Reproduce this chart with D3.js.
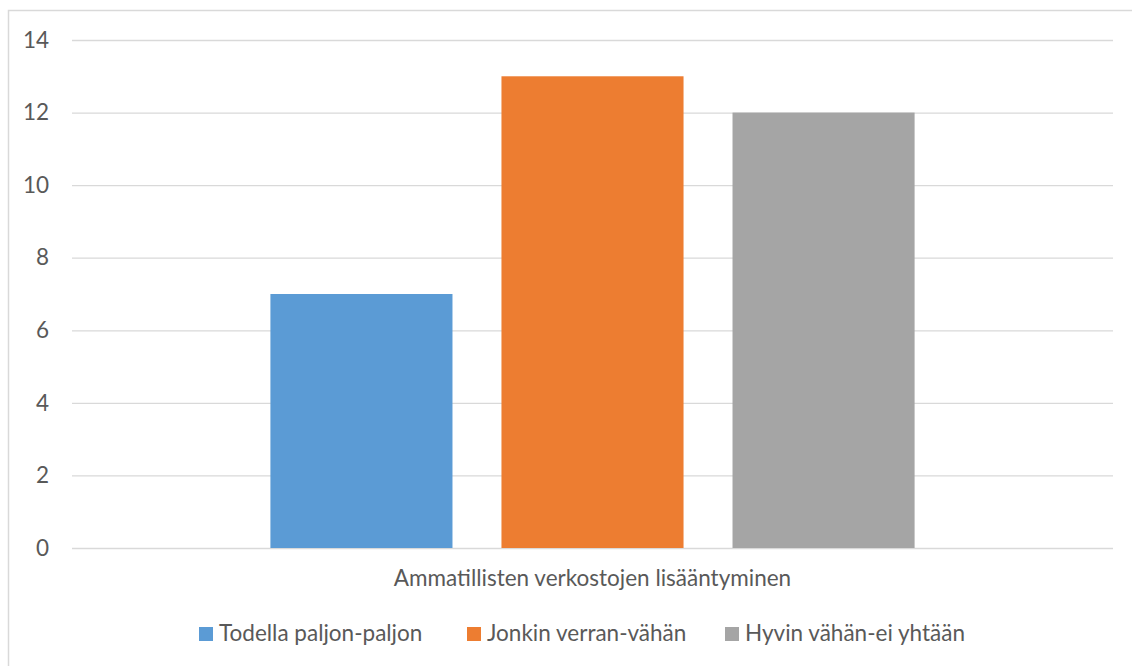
<!DOCTYPE html>
<html>
<head>
<meta charset="utf-8">
<script src="https://cdn.jsdelivr.net/npm/d3@7"></script>
<style>
  html, body { margin: 0; padding: 0; background: #fff; }
  svg { display: block; }
  text { font-family: Lato, "Open Sans", sans-serif; fill: #595959; }
</style>
</head>
<body>
<svg id="chart" width="1132" height="666"></svg>
<script>
// Chart data
const categories = ["Ammatillisten verkostojen lisääntyminen"];
const seriesNames = ["Todella paljon-paljon", "Jonkin verran-vähän", "Hyvin vähän-ei yhtään"];
const seriesValues = [7, 13, 12];
const seriesColors = ["#5b9bd5", "#ed7d31", "#a5a5a5"];
const yTicks = [0, 2, 4, 6, 8, 10, 12, 14];

const svg = d3.select("#chart");
const W = 1132, H = 666;
const plot = { left: 72, right: 1113, top: 40, bottom: 548 };
const FONT = "Lato, 'Open Sans', sans-serif";

// Chart area frame
svg.append("rect")
  .attr("x", 8.5).attr("y", 10.5)
  .attr("width", W + 20).attr("height", H + 20)
  .attr("fill", "#fff")
  .attr("stroke", "#d9d9d9")
  .attr("stroke-width", 1.5);

const y = d3.scaleLinear().domain([0, 14]).range([plot.bottom, plot.top]);

const x0 = d3.scaleBand()
  .domain(categories)
  .range([plot.left, plot.right])
  .paddingInner(0)
  .paddingOuter(0.308);

const x1 = d3.scaleBand()
  .domain(seriesNames)
  .range([0, x0.bandwidth()])
  .paddingInner(0.212)
  .paddingOuter(0);

// Gridlines and y tick labels
const yAxis = d3.axisLeft(y)
  .tickValues(yTicks)
  .tickSize(-(plot.right - plot.left))
  .tickPadding(23)
  .tickFormat(d3.format("d"));

const gy = svg.append("g")
  .attr("transform", `translate(${plot.left},0)`)
  .call(yAxis);
gy.select(".domain").remove();
gy.selectAll(".tick line")
  .attr("stroke", "#d9d9d9")
  .attr("stroke-width", 1.3);
gy.selectAll(".tick text")
  .attr("fill", "#595959")
  .style("font-family", FONT)
  .style("font-size", "22.5px");

// Bars
const groups = svg.append("g")
  .selectAll("g")
  .data(categories)
  .join("g")
  .attr("transform", d => `translate(${x0(d)},0)`);

groups.selectAll("rect")
  .data(() => seriesNames.map((s, i) => ({ name: s, value: seriesValues[i], color: seriesColors[i] })))
  .join("rect")
  .attr("x", d => x1(d.name))
  .attr("y", d => y(d.value))
  .attr("width", x1.bandwidth())
  .attr("height", d => y(0) - y(d.value))
  .attr("fill", d => d.color);

// Category axis label
const xAxis = d3.axisBottom(x0).tickSize(0).tickPadding(0);
const gx = svg.append("g")
  .attr("transform", `translate(0,${plot.bottom})`)
  .call(xAxis);
gx.select(".domain").remove();
gx.selectAll(".tick text")
  .attr("y", 38)
  .attr("dy", null)
  .attr("fill", "#595959")
  .style("font-family", FONT)
  .style("font-size", "22.5px");

// Legend
const legendStarts = [199, 467, 725];
const legend = svg.append("g")
  .selectAll("g")
  .data(seriesNames)
  .join("g")
  .attr("transform", (d, i) => `translate(${legendStarts[i]},627)`);
legend.append("rect")
  .attr("width", 14).attr("height", 14)
  .attr("fill", (d, i) => seriesColors[i]);
legend.append("text")
  .attr("x", 20).attr("y", 14)
  .style("font-family", FONT)
  .style("font-size", "22.5px")
  .text(d => d);
</script>
</body>
</html>
